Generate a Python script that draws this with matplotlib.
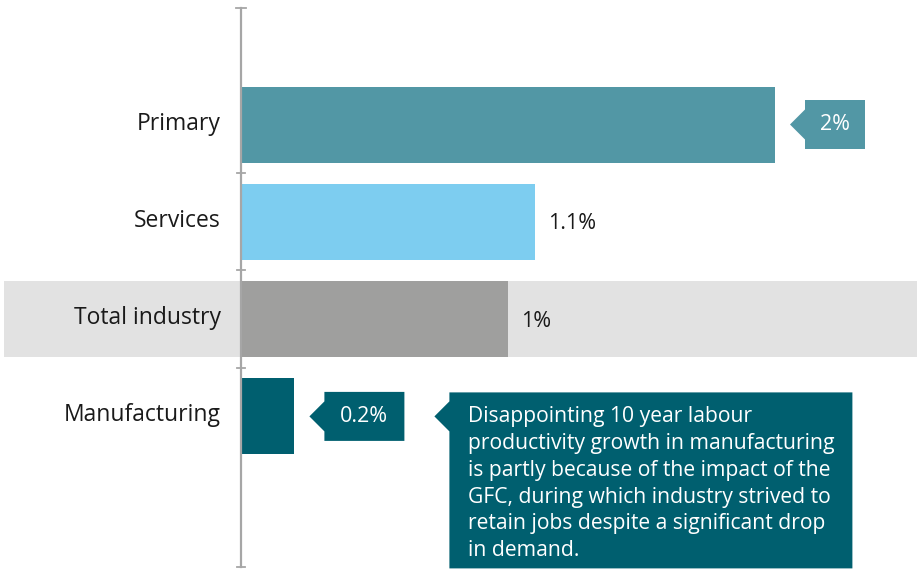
import numpy as np
import matplotlib.pyplot as plt
from matplotlib.patches import Polygon, Rectangle

# 10 year average labour productivity growth, by sector (%)
sectors = ["Primary", "Services", "Total industry", "Manufacturing"]
growth = [2.0, 1.1, 1.0, 0.2]
value_labels = ["2%", "1.1%", "1%", "0.2%"]
bar_colors = ["#5297a5", "#7dcdf0", "#9f9f9e", "#005f6f"]
boxed = [True, False, False, True]

note = ("Disappointing 10 year labour\n"
        "productivity growth in manufacturing\n"
        "is partly because of the impact of the\n"
        "GFC, during which industry strived to\n"
        "retain jobs despite a significant drop\n"
        "in demand.")

plt.rcParams['font.family'] = ['Open Sans', 'DejaVu Sans']

W, H = 921, 569
fig = plt.figure(figsize=(W / 100, H / 100), dpi=100)
ax = fig.add_axes([0, 0, 1, 1])

# pixel scale of the axes
x0_px, kx = 241, 267.0      # zero line, pixels per 1%
y0_px, ky = 124.5, 97.3     # first category centre, pixels per category
ax.set_xlim(-x0_px / kx, (W - x0_px) / kx)
ax.set_ylim((H - y0_px) / ky, -y0_px / ky)
ax.axis('off')


def dx(p):
    return p / kx


def dy(p):
    return p / ky


ypos = np.arange(len(sectors))
bar_h = dy(76)

# grey band behind the total row
ti = sectors.index("Total industry")
ax.add_patch(Rectangle((dx(4 - x0_px), ti - bar_h / 2), dx(913), bar_h,
                       color="#e2e2e2", zorder=0, lw=0))

ax.barh(ypos, growth, height=bar_h, color=bar_colors, zorder=2)

# axis line with ticks between categories
y_top, y_bot = dy(8 - y0_px), dy(567 - y0_px)
ax.plot([0, 0], [y_top, y_bot], color="#a6a6a6", lw=1.6, zorder=3)
for t in [y_top, 0.5, 1.5, 2.5, y_bot]:
    w = 5 if t == y_top else 4
    ax.plot([-dx(w), dx(w)], [t, t], color="#a6a6a6", lw=1.3, zorder=3)

for y, name in zip(ypos, sectors):
    ax.text(dx(-20), y - dy(1), name, ha="right", va="center", fontsize=16.5,
            color="#1a1a1a")


def callout(x_tip, y, width, height, color, zorder=4):
    # box with a small arrow pointing left
    pts = [(x_tip, y),
           (x_tip + dx(15), y - dy(15)),
           (x_tip + dx(15), y - dy(height / 2)),
           (x_tip + dx(15 + width), y - dy(height / 2)),
           (x_tip + dx(15 + width), y + dy(height / 2)),
           (x_tip + dx(15), y + dy(height / 2)),
           (x_tip + dx(15), y + dy(15))]
    ax.add_patch(Polygon(pts, closed=True, color=color, lw=0, zorder=zorder))
    return x_tip + dx(15)


for y, v, lab, c, b in zip(ypos, growth, value_labels, bar_colors, boxed):
    if b:
        width = 60 if len(lab) <= 2 else 80
        left = callout(v + dx(15), y, width, 49, c)
        ax.text(left + dx(width / 2), y, lab, ha="center", va="center",
                fontsize=15.5, color="white", zorder=5)
    else:
        ax.text(v + dx(13), y + dy(2), lab, ha="left", va="center",
                fontsize=15.5, color="#1a1a1a")

# note on manufacturing
mi = sectors.index("Manufacturing")
ym = ypos[mi]
tip = growth[mi] + dx(140)
left = tip + dx(15)
pts = [(tip, ym),
       (left, ym - dy(15)),
       (left, ym - dy(24)),
       (left + dx(403), ym - dy(24)),
       (left + dx(403), ym + dy(152)),
       (left, ym + dy(152)),
       (left, ym + dy(15))]
ax.add_patch(Polygon(pts, closed=True, color="#005f6f", lw=0, zorder=4))
ax.text(left + dx(19), ym - dy(10), note, ha="left", va="top",
        fontsize=15.2, color="white", linespacing=1.36, zorder=5)

fig.savefig("out.png", dpi=100)
